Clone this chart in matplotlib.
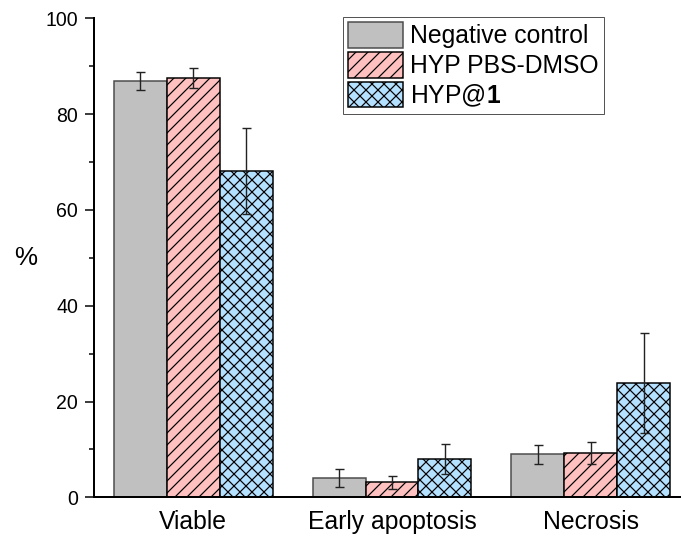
import matplotlib
matplotlib.use('Agg')
import matplotlib.pyplot as plt
from matplotlib.ticker import MultipleLocator
import numpy as np

# ---- data ----
categories = ['Viable', 'Early apoptosis', 'Necrosis']
series_names = ['Negative control', 'HYP PBS-DMSO', 'HYP@$\\mathbf{1}$']

neg_ctrl = [86.9, 4.0, 8.95]
neg_ctrl_err = [1.8, 1.85, 2.05]

hyp_pbs = [87.6, 3.1, 9.3]
hyp_pbs_err = [2.1, 1.35, 2.3]

hyp_at1 = [68.1, 8.0, 23.8]
hyp_at1_err = [9.0, 3.05, 10.4]

yticks = [0, 20, 40, 60, 80, 100]

# ---- styling ----
plt.rcParams['font.family'] = ['Liberation Sans', 'DejaVu Sans']
plt.rcParams['mathtext.fontset'] = 'custom'
plt.rcParams['mathtext.bf'] = 'Liberation Sans:bold'
plt.rcParams['mathtext.rm'] = 'Liberation Sans'
plt.rcParams['hatch.linewidth'] = 1.2

fig = plt.figure(figsize=(681/72, 544/72), dpi=72)
ax = fig.add_axes([94/681, 46.7/544, 596/681, 479/544])

x = np.arange(len(categories))
w = 0.8/3
err_kw = dict(ecolor='#222222', elinewidth=1.4, capsize=4.5, capthick=1.4)

ax.bar(x - w, neg_ctrl, w, yerr=neg_ctrl_err, color='#C0C0C0',
       edgecolor='#4a4a4a', linewidth=1.5, label=series_names[0], error_kw=err_kw)
ax.bar(x, hyp_pbs, w, yerr=hyp_pbs_err, color='#FFC0C0', edgecolor='black',
       linewidth=1.5, hatch='//', label=series_names[1], error_kw=err_kw)
ax.bar(x + w, hyp_at1, w, yerr=hyp_at1_err, color='#B4E1FF', edgecolor='black',
       linewidth=1.5, hatch='xx', label=series_names[2], error_kw=err_kw)

ax.set_xlim(-0.5, 2.5)
ax.set_ylim(0, 100)
ax.set_xticks(x)
ax.set_xticklabels(categories, fontsize=24.7)
ax.tick_params(axis='x', length=0, pad=13)
ax.set_yticks(yticks)
ax.yaxis.set_minor_locator(MultipleLocator(10))
ax.tick_params(axis='y', which='major', length=9, width=1.5, labelsize=19.5, pad=7)
ax.tick_params(axis='y', which='minor', length=5, width=1.5)

for s in ['top', 'right']:
    ax.spines[s].set_visible(False)
for s in ['left', 'bottom']:
    ax.spines[s].set_linewidth(2)

ax.set_ylabel('%', rotation=0, fontsize=26, ha='center', va='center')
ax.yaxis.set_label_coords(-0.114, 0.5)

leg = ax.legend(loc='upper left', bbox_to_anchor=(342.7/681, 1 - 17.3/544),
                bbox_transform=fig.transFigure, borderaxespad=0, fontsize=24.7,
                handlelength=2.23, handleheight=1.2, labelspacing=0.16,
                borderpad=0.2, handletextpad=0.3, fancybox=False,
                framealpha=1, edgecolor='#555555')
leg.get_frame().set_linewidth(1.0)

fig.savefig('out.png', dpi=72)
